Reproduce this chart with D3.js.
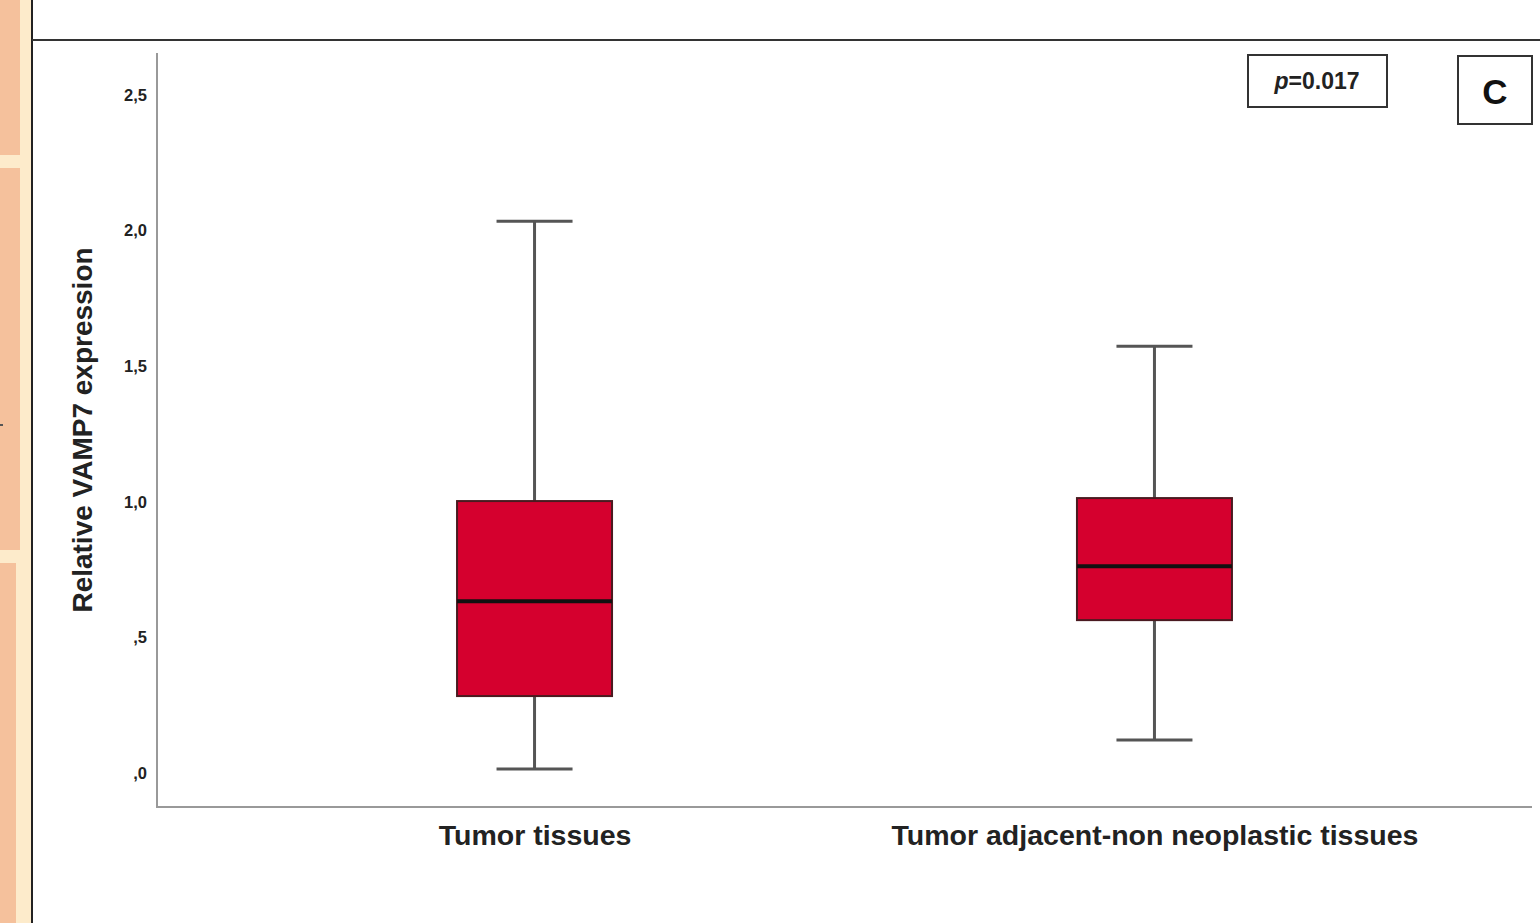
<!DOCTYPE html>
<html>
<head>
<meta charset="utf-8">
<script src="https://cdn.jsdelivr.net/npm/d3@7"></script>
<style>
  body { margin: 0; background: #fff; }
  svg { display: block; }
</style>
</head>
<body>
<div id="chart"></div>
<script>
// data
const groups = ["Tumor tissues", "Tumor adjacent-non neoplastic tissues"];
const whiskerLow = [0.015, 0.122];
const q1 = [0.284, 0.564];
const median = [0.634, 0.763];
const q3 = [1.003, 1.014];
const whiskerHigh = [2.035, 1.574];
const yTicks = [0, 0.5, 1.0, 1.5, 2.0, 2.5];
const yTickLabels = [",0", ",5", "1,0", "1,5", "2,0", "2,5"];

const W = 1540, H = 923;
const plot = {left: 157, right: 1532, top: 53, bottom: 807};

const svg = d3.select("#chart").append("svg")
  .attr("width", W)
  .attr("height", H);

// page decoration on the left (slide background)
const strips = svg.append("g");
strips.append("rect").attr("x", 0).attr("y", 0).attr("width", 32).attr("height", H).attr("fill", "#fdebcb");
strips.append("rect").attr("x", 0).attr("y", 0).attr("width", 20).attr("height", 155).attr("fill", "#f5c19c");
strips.append("rect").attr("x", 0).attr("y", 168).attr("width", 20).attr("height", 382).attr("fill", "#f5c19c");
strips.append("rect").attr("x", 0).attr("y", 563).attr("width", 16).attr("height", 360).attr("fill", "#f5c19c");
strips.append("rect").attr("x", 0).attr("y", 424).attr("width", 3).attr("height", 2).attr("fill", "#555");
svg.append("line").attr("x1", 32).attr("x2", 32).attr("y1", 0).attr("y2", H)
  .attr("stroke", "#222").attr("stroke-width", 2);
svg.append("line").attr("x1", 32).attr("x2", W).attr("y1", 40).attr("y2", 40)
  .attr("stroke", "#333").attr("stroke-width", 2);

const y = d3.scaleLinear()
  .domain([-0.125, 2.655])
  .range([plot.bottom, plot.top]);

const x = d3.scalePoint()
  .domain(groups)
  .range([plot.left, plot.right])
  .padding(0.609);

// axes
const yAxis = svg.append("g")
  .attr("transform", "translate(" + plot.left + ",0)")
  .call(d3.axisLeft(y).tickValues(yTicks).tickSize(0).tickPadding(10)
    .tickFormat((d, i) => yTickLabels[i]));
yAxis.select(".domain").remove();
yAxis.selectAll("text")
  .attr("font-family", "Liberation Sans, Arial, sans-serif")
  .attr("font-weight", "bold")
  .attr("font-size", 16.5)
  .attr("fill", "#222");

const xAxis = svg.append("g")
  .attr("transform", "translate(0," + plot.bottom + ")")
  .call(d3.axisBottom(x).tickSize(0).tickPadding(18));
xAxis.select(".domain").remove();
xAxis.selectAll("text")
  .attr("font-family", "Liberation Sans, Arial, sans-serif")
  .attr("font-weight", "bold")
  .attr("font-size", 28.5)
  .attr("fill", "#222");

svg.append("path")
  .attr("d", "M" + plot.left + "," + plot.top + "V" + plot.bottom + "H" + plot.right)
  .attr("fill", "none")
  .attr("stroke", "#999")
  .attr("stroke-width", 2);

svg.append("text")
  .attr("transform", "translate(92,430) rotate(-90)")
  .attr("text-anchor", "middle")
  .attr("font-family", "Liberation Sans, Arial, sans-serif")
  .attr("font-weight", "bold")
  .attr("font-size", 28)
  .attr("fill", "#222")
  .text("Relative VAMP7 expression");

// boxes
const boxW = 155, capW = 76;
const boxes = svg.append("g")
  .selectAll("g")
  .data(groups)
  .enter()
  .append("g");

boxes.append("line")
  .attr("x1", d => x(d)).attr("x2", d => x(d))
  .attr("y1", (d, i) => y(whiskerHigh[i]))
  .attr("y2", (d, i) => y(whiskerLow[i]))
  .attr("stroke", "#555").attr("stroke-width", 3);

boxes.selectAll(".cap")
  .data((d, i) => [{g: d, v: whiskerLow[i]}, {g: d, v: whiskerHigh[i]}])
  .enter()
  .append("line")
  .attr("class", "cap")
  .attr("x1", d => x(d.g) - capW / 2).attr("x2", d => x(d.g) + capW / 2)
  .attr("y1", d => y(d.v)).attr("y2", d => y(d.v))
  .attr("stroke", "#555").attr("stroke-width", 3);

boxes.append("rect")
  .attr("x", d => x(d) - boxW / 2)
  .attr("y", (d, i) => y(q3[i]))
  .attr("width", boxW)
  .attr("height", (d, i) => y(q1[i]) - y(q3[i]))
  .attr("fill", "#d5002e")
  .attr("stroke", "#4a1a20")
  .attr("stroke-width", 2);

boxes.append("line")
  .attr("x1", d => x(d) - boxW / 2).attr("x2", d => x(d) + boxW / 2)
  .attr("y1", (d, i) => y(median[i])).attr("y2", (d, i) => y(median[i]))
  .attr("stroke", "#111").attr("stroke-width", 4);

// p-value and panel label
svg.append("rect").attr("x", 1248).attr("y", 55).attr("width", 139).attr("height", 52)
  .attr("fill", "#fff").attr("stroke", "#333").attr("stroke-width", 2);
const pt = svg.append("text")
  .attr("x", 1317).attr("y", 89)
  .attr("text-anchor", "middle")
  .attr("font-family", "Liberation Sans, Arial, sans-serif")
  .attr("font-weight", "bold")
  .attr("font-size", 23)
  .attr("fill", "#222");
pt.append("tspan").attr("font-style", "italic").text("p");
pt.append("tspan").text("=0.017");

svg.append("rect").attr("x", 1458).attr("y", 56).attr("width", 74).attr("height", 68)
  .attr("fill", "#fff").attr("stroke", "#333").attr("stroke-width", 2);
svg.append("text")
  .attr("x", 1495).attr("y", 104)
  .attr("text-anchor", "middle")
  .attr("font-family", "Liberation Sans, Arial, sans-serif")
  .attr("font-weight", "bold")
  .attr("font-size", 35)
  .attr("fill", "#111")
  .text("C");
</script>
</body>
</html>
